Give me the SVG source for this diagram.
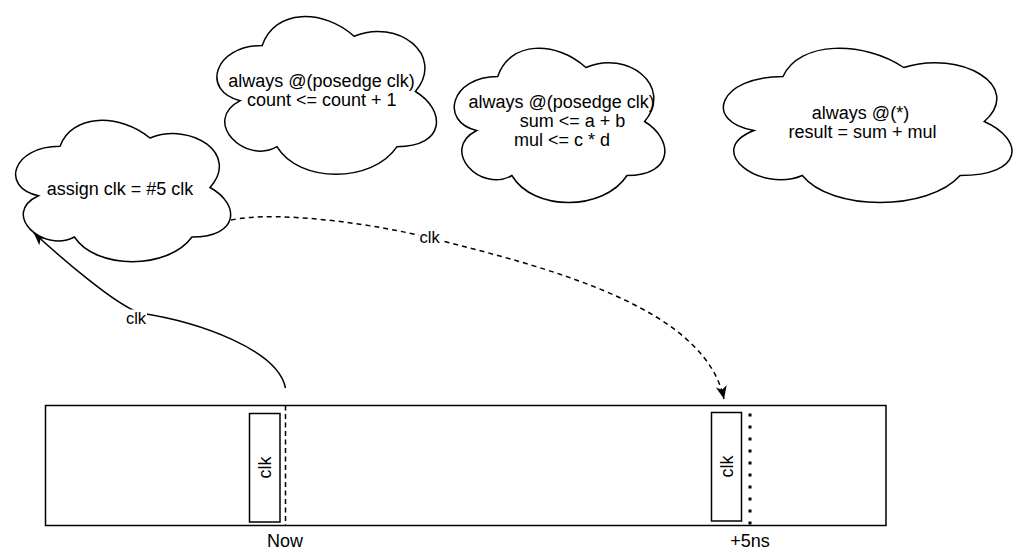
<svg xmlns="http://www.w3.org/2000/svg" width="1022" height="558" viewBox="0 0 1022 558">
<style>
.cloud{fill:#fff;stroke:#000;stroke-width:1.5}
.t{font-family:"Liberation Sans",Helvetica,Arial,sans-serif;font-size:18px;fill:#000;text-anchor:middle}
.el{font-family:"Liberation Sans",Helvetica,Arial,sans-serif;font-size:16.5px;fill:#000;text-anchor:middle}
.box{fill:#fff;stroke:#000;stroke-width:1.5}
.edge{fill:none;stroke:#000;stroke-width:1.5}
</style>
<defs>
<marker id="arr" markerUnits="userSpaceOnUse" viewBox="0 -7 14 14" refX="13" refY="0" markerWidth="14" markerHeight="14" orient="auto">
<path d="M0 -5.5 L13 0 L0 5.5 L3.5 0 Z" fill="#000"/>
</marker>
</defs>
<g id="timeline">
<rect x="45.5" y="405.5" width="840.5" height="120" class="box"/>
</g>
<g id="now-marker">
<rect x="249.5" y="413.5" width="30.5" height="108.5" class="box"/>
<text class="t" transform="translate(271 467.5) rotate(-90)">clk</text>
<line x1="285.5" y1="405.5" x2="285.5" y2="525.5" stroke="#000" stroke-width="1.5" stroke-dasharray="5 3.5"/>
<text class="t" x="285" y="547">Now</text>
</g>
<g id="plus5-marker">
<rect x="711.5" y="412.5" width="30" height="108.5" class="box"/>
<text class="t" transform="translate(732.5 466.5) rotate(-90)">clk</text>
<line x1="750" y1="413.5" x2="750" y2="525.5" stroke="#000" stroke-width="3" stroke-dasharray="3 9"/>
<text class="t" x="750" y="547">+5ns</text>
</g>
<g id="connectors">
<path class="edge" d="M285.5 388 C278 350, 200 322, 140 313 C115 305, 58 255, 33.5 232.5" marker-end="url(#arr)"/>
<path class="edge" stroke-dasharray="5 4" d="M231 220 C280 210, 380 225, 430 238 C560 270, 705 310, 724 399" marker-end="url(#arr)"/>
<rect x="125" y="309.5" width="22" height="17" fill="#fff"/>
<text class="el" x="136" y="324">clk</text>
<rect x="418.5" y="230" width="22.5" height="17" fill="#fff"/>
<text class="el" x="429.7" y="242.7">clk</text>
</g>
<g id="cloud-assign">
<path class="cloud" d="M 60 146.25 C 12 146.25, 0 187.5, 38.4 195.75 C 0 213.9, 43.2 253.5, 74.4 237 C 96 270, 168 270, 192 237 C 240 237, 240 204, 210 187.5 C 240 154.5, 192 121.5, 150 138 C 120 113.25, 72 113.25, 60 146.25 Z"/>
<text class="t" x="120" y="195">assign clk = #5 clk</text>
</g>
<g id="cloud-count">
<path class="cloud" d="M 262.25 45.5 C 213.25 45.5, 201 91.5, 240.2 100.7 C 201 120.94, 245.1 165.1, 276.95 146.7 C 299 183.5, 372.5 183.5, 397 146.7 C 446 146.7, 446 109.9, 415.375 91.5 C 446 54.7, 397 17.9, 354.125 36.3 C 323.5 8.7, 274.5 8.7, 262.25 45.5 Z"/>
<text class="t" x="321.5" y="87">always @(posedge clk)</text>
<text class="t" x="321.8" y="106">count &lt;= count + 1</text>
</g>
<g id="cloud-summul">
<path class="cloud" d="M 497.75 76.5 C 450.75 76.5, 439 121.5, 476.6 130.5 C 439 150.3, 481.3 193.5, 511.85 175.5 C 533 211.5, 603.5 211.5, 627 175.5 C 674 175.5, 674 139.5, 644.625 121.5 C 674 85.5, 627 49.5, 585.875 67.5 C 556.5 40.5, 509.5 40.5, 497.75 76.5 Z"/>
<text class="t" x="561.7" y="108.3">always @(posedge clk)</text>
<text class="t" x="572.5" y="127.3">sum &lt;= a + b</text>
<text class="t" x="562" y="146">mul &lt;= c * d</text>
</g>
<g id="cloud-result">
<path class="cloud" d="M 783 76.5 C 718.6 76.5, 702.5 121.5, 754.02 130.5 C 702.5 150.3, 760.46 193.5, 802.32 175.5 C 831.3 211.5, 927.9 211.5, 960.1 175.5 C 1024.5 175.5, 1024.5 139.5, 984.25 121.5 C 1024.5 85.5, 960.1 49.5, 903.75 67.5 C 863.5 40.5, 799.1 40.5, 783 76.5 Z"/>
<text class="t" x="860.5" y="119.3">always @(*)</text>
<text class="t" x="862.5" y="137.5">result = sum + mul</text>
</g>
</svg>
